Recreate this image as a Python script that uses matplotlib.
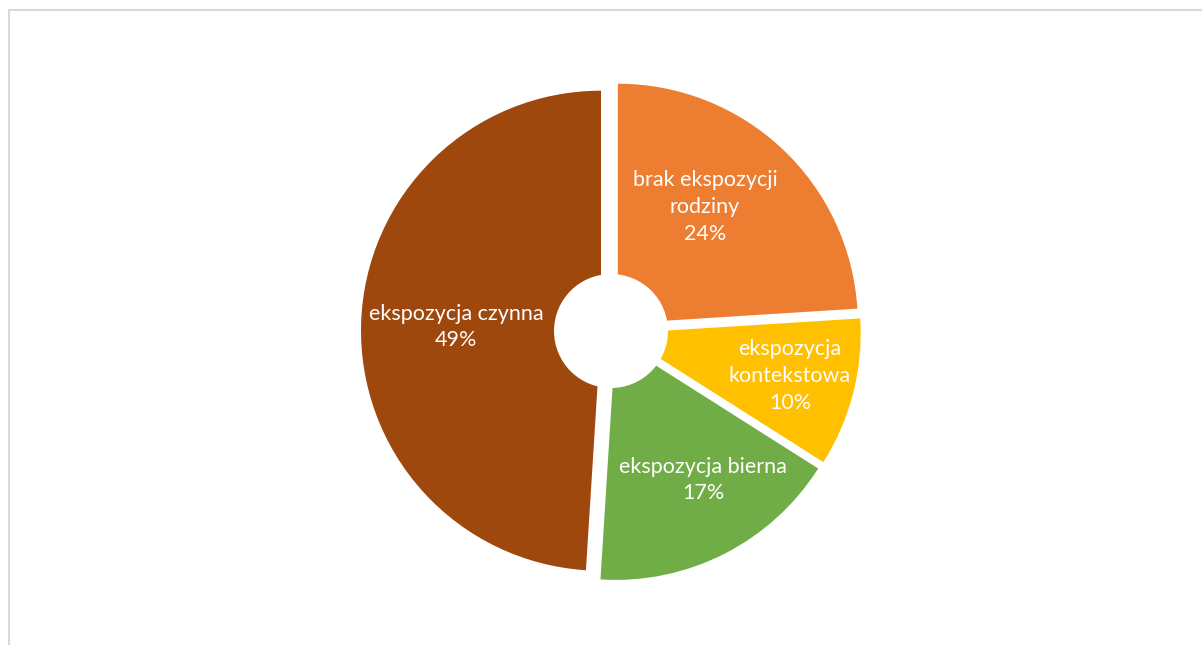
import matplotlib
matplotlib.use("Agg")
import matplotlib.pyplot as plt
from matplotlib.lines import Line2D
from matplotlib.patches import Circle

W, H = 1202, 645

categories = ["brak ekspozycji\nrodziny", "ekspozycja\nkontekstowa",
              "ekspozycja bierna", "ekspozycja czynna"]
values = [24, 10, 17, 49]
colors = ["#ED7D31", "#FFC000", "#70AD47", "#9E480E"]

# label centres in picture pixels (x, y from top)
label_pos = [(705, 207), (790, 376), (703, 480), (456, 327)]

plt.rcParams["font.family"] = ["Lato", "DejaVu Sans"]

fig = plt.figure(figsize=(W / 100, H / 100), dpi=100)
ax = fig.add_axes([0, 0, 1, 1])

cx, cy = 611, H - 331
ax.pie(values, colors=colors, startangle=90, counterclock=False,
       radius=240, center=(cx, cy), explode=[10] * len(values),
       frame=True)
ax.add_patch(Circle((cx, cy), 57, facecolor="white", edgecolor="none", zorder=5))
ax.set_xlim(0, W)
ax.set_ylim(0, H)
ax.axis("off")

for lab, v, (x, y) in zip(categories, values, label_pos):
    ax.text(x, H - y, f"{lab}\n{v}%", color="white", fontsize=15.5,
            ha="center", va="center", linespacing=1.42, zorder=6)

# light frame around the chart area
frame_kw = dict(color="#D9D9D9", linewidth=1.5, transform=None)
fig.add_artist(Line2D([8.5, W], [H - 9.5, H - 9.5], **frame_kw))
fig.add_artist(Line2D([8.5, 8.5], [0, H - 9.5], **frame_kw))

fig.savefig("out.png", dpi=100, facecolor="white")
